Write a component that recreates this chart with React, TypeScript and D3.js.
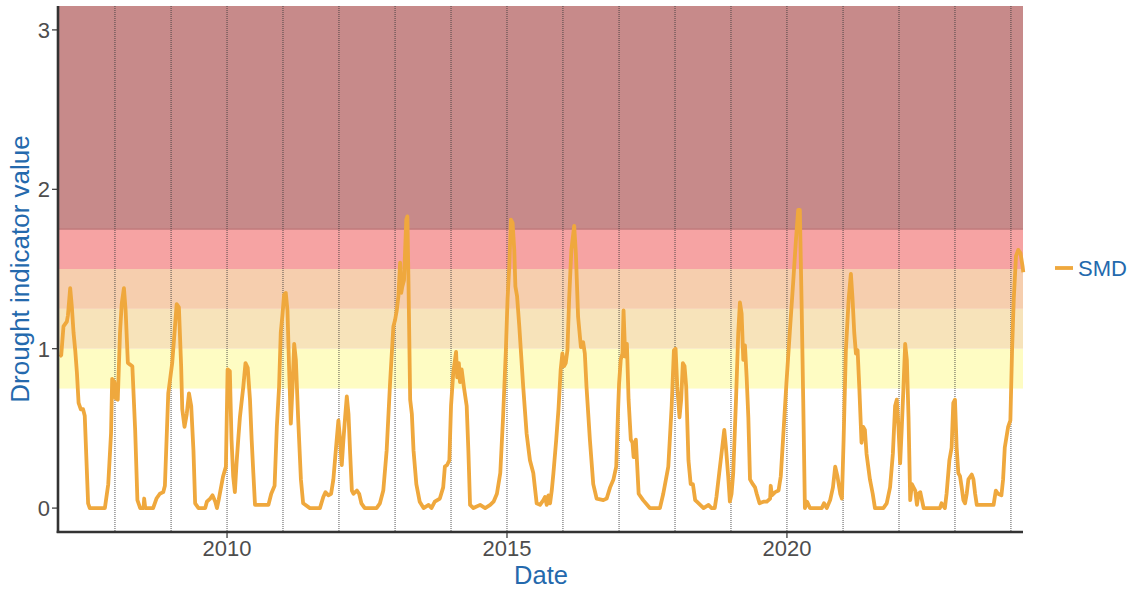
import React from "react";
import * as d3 from "d3";

// ---- data (decimal year, SMD value) ----
const smd2007to2012: [number, number][] = [
  [2007.01, 0.95], [2007.04, 0.96], [2007.08, 1.14], [2007.14, 1.17], [2007.16, 1.21], [2007.2, 1.38], [2007.23, 1.26],
  [2007.26, 1.1], [2007.29, 0.99], [2007.32, 0.85], [2007.35, 0.66], [2007.39, 0.62], [2007.43, 0.62], [2007.46, 0.58],
  [2007.52, 0.03], [2007.55, 0], [2007.82, 0], [2007.88, 0.15], [2007.93, 0.47], [2007.95, 0.81], [2007.99, 0.79],
  [2008.01, 0.69], [2008.05, 0.68], [2008.09, 1.1], [2008.12, 1.28], [2008.16, 1.38], [2008.19, 1.24], [2008.23, 0.91],
  [2008.27, 0.9], [2008.31, 0.89], [2008.36, 0.49], [2008.4, 0.05], [2008.45, 0], [2008.51, 0], [2008.52, 0.06],
  [2008.54, 0], [2008.68, 0], [2008.74, 0.06], [2008.8, 0.09], [2008.86, 0.1], [2008.89, 0.14], [2008.95, 0.72],
  [2008.98, 0.8], [2009.02, 0.91], [2009.07, 1.14], [2009.1, 1.28], [2009.14, 1.26], [2009.18, 0.89], [2009.2, 0.62],
  [2009.24, 0.51], [2009.28, 0.59], [2009.32, 0.72], [2009.36, 0.64], [2009.4, 0.36], [2009.43, 0.03], [2009.49, 0],
  [2009.61, 0], [2009.64, 0.04], [2009.7, 0.06], [2009.74, 0.08], [2009.79, 0.04], [2009.82, 0], [2009.85, 0.05],
  [2009.93, 0.2], [2009.98, 0.26], [2010.01, 0.87], [2010.05, 0.86], [2010.08, 0.43], [2010.11, 0.2], [2010.14, 0.1],
  [2010.17, 0.28], [2010.2, 0.43], [2010.23, 0.57], [2010.29, 0.76], [2010.33, 0.91], [2010.37, 0.88], [2010.41, 0.68],
  [2010.44, 0.43], [2010.47, 0.22], [2010.5, 0.02], [2010.74, 0.02], [2010.79, 0.09], [2010.85, 0.14], [2010.89, 0.51],
  [2010.93, 0.76], [2010.96, 1.1], [2010.99, 1.21], [2011.02, 1.34], [2011.05, 1.35], [2011.08, 1.24], [2011.11, 0.87],
  [2011.14, 0.53], [2011.17, 0.76], [2011.2, 1.03], [2011.23, 0.93], [2011.27, 0.57], [2011.32, 0.18], [2011.36, 0.03],
  [2011.48, 0], [2011.66, 0], [2011.72, 0.07], [2011.76, 0.1], [2011.81, 0.08], [2011.86, 0.09], [2011.9, 0.18],
  [2011.96, 0.43], [2011.99, 0.55], [2012.02, 0.43], [2012.05, 0.27], [2012.08, 0.43], [2012.11, 0.57], [2012.14, 0.7],
  [2012.17, 0.59], [2012.2, 0.34], [2012.23, 0.11], [2012.26, 0.09], [2012.32, 0.11], [2012.36, 0.09], [2012.4, 0.03],
  [2012.46, 0], [2012.67, 0],
];

const smd2012to2018: [number, number][] = [
  [2012.73, 0.03], [2012.79, 0.11], [2012.85, 0.36], [2012.91, 0.78], [2012.97, 1.14], [2013.0, 1.18], [2013.03, 1.24],
  [2013.06, 1.33], [2013.09, 1.54], [2013.11, 1.35], [2013.13, 1.39], [2013.16, 1.43], [2013.2, 1.81], [2013.22, 1.83],
  [2013.24, 1.41], [2013.27, 0.68], [2013.3, 0.59], [2013.33, 0.36], [2013.38, 0.15], [2013.44, 0.04], [2013.51, 0],
  [2013.6, 0.02], [2013.65, 0], [2013.71, 0.04], [2013.8, 0.06], [2013.86, 0.13], [2013.89, 0.26], [2013.93, 0.27],
  [2013.97, 0.3], [2014.0, 0.64], [2014.04, 0.85], [2014.09, 0.98], [2014.11, 0.82], [2014.14, 0.91], [2014.16, 0.79],
  [2014.19, 0.87], [2014.23, 0.76], [2014.28, 0.64], [2014.31, 0.36], [2014.34, 0.02], [2014.4, 0], [2014.52, 0.02],
  [2014.61, 0], [2014.7, 0.02], [2014.76, 0.04], [2014.82, 0.09], [2014.88, 0.22], [2014.93, 0.57], [2014.98, 0.99],
  [2015.01, 1.31], [2015.04, 1.51], [2015.07, 1.81], [2015.1, 1.79], [2015.13, 1.62], [2015.15, 1.39], [2015.18, 1.33],
  [2015.22, 1.14], [2015.29, 0.76], [2015.35, 0.47], [2015.41, 0.3], [2015.47, 0.22], [2015.53, 0.03], [2015.59, 0.02],
  [2015.65, 0.05], [2015.68, 0.07], [2015.71, 0.02], [2015.74, 0.08], [2015.77, 0.03], [2015.8, 0.11], [2015.83, 0.22],
  [2015.88, 0.43], [2015.92, 0.62], [2015.96, 0.87], [2015.99, 0.97], [2016.02, 0.89], [2016.05, 0.91], [2016.08, 0.99],
  [2016.11, 1.31], [2016.15, 1.62], [2016.2, 1.77], [2016.23, 1.6], [2016.27, 1.2], [2016.32, 1.01], [2016.36, 1.04],
  [2016.39, 0.97], [2016.42, 0.76], [2016.48, 0.43], [2016.54, 0.15], [2016.6, 0.06], [2016.72, 0.05], [2016.78, 0.06],
  [2016.84, 0.13], [2016.9, 0.18], [2016.95, 0.26], [2016.98, 0.59], [2017.0, 0.78], [2017.03, 0.93], [2017.06, 0.97],
  [2017.08, 1.24], [2017.11, 0.95], [2017.14, 1.03], [2017.17, 0.68], [2017.21, 0.43], [2017.24, 0.41], [2017.26, 0.32],
  [2017.3, 0.43], [2017.35, 0.09], [2017.43, 0.05], [2017.55, 0], [2017.73, 0], [2017.79, 0.09], [2017.88, 0.26],
  [2017.94, 0.64], [2017.98, 0.99], [2018.01, 1.0], [2018.04, 0.76], [2018.08, 0.57], [2018.11, 0.68], [2018.14, 0.91],
  [2018.17, 0.89], [2018.2, 0.76], [2018.24, 0.3], [2018.28, 0.15], [2018.32, 0.15],
];

const smd2018to2024: [number, number][] = [
  [2018.36, 0.05], [2018.39, 0.04], [2018.51, 0], [2018.6, 0.02], [2018.65, 0], [2018.71, 0], [2018.74, 0.07],
  [2018.79, 0.22], [2018.83, 0.34], [2018.88, 0.49], [2018.91, 0.38], [2018.95, 0.2], [2018.98, 0.04], [2019.01, 0.09],
  [2019.04, 0.22], [2019.09, 0.68], [2019.13, 1.1], [2019.16, 1.29], [2019.19, 1.22], [2019.22, 0.93], [2019.25, 1.02],
  [2019.28, 0.82], [2019.31, 0.57], [2019.34, 0.18], [2019.39, 0.15], [2019.43, 0.13], [2019.46, 0.09], [2019.51, 0.03],
  [2019.58, 0.04], [2019.64, 0.04], [2019.7, 0.06], [2019.71, 0.14], [2019.73, 0.08], [2019.79, 0.1], [2019.85, 0.11],
  [2019.89, 0.2], [2019.93, 0.43], [2019.99, 0.78], [2020.05, 1.1], [2020.11, 1.41], [2020.16, 1.68], [2020.2, 1.87],
  [2020.23, 1.87], [2020.26, 1.31], [2020.29, 0.68], [2020.32, 0], [2020.36, 0.04], [2020.41, 0], [2020.62, 0],
  [2020.66, 0.03], [2020.71, 0], [2020.77, 0.05], [2020.82, 0.13], [2020.86, 0.26], [2020.9, 0.2], [2020.95, 0.09],
  [2020.98, 0.06], [2021.01, 0.43], [2021.05, 0.99], [2021.1, 1.31], [2021.14, 1.47], [2021.17, 1.31], [2021.2, 1.1],
  [2021.23, 0.97], [2021.26, 0.99], [2021.29, 0.76], [2021.33, 0.41], [2021.36, 0.51], [2021.39, 0.49], [2021.42, 0.34],
  [2021.48, 0.18], [2021.53, 0.09], [2021.57, 0], [2021.72, 0], [2021.78, 0.03], [2021.84, 0.13], [2021.89, 0.34],
  [2021.93, 0.64], [2021.96, 0.68], [2021.99, 0.51], [2022.02, 0.28], [2022.05, 0.51], [2022.08, 0.76], [2022.11, 1.03],
  [2022.14, 0.93], [2022.17, 0.57], [2022.2, 0.05], [2022.23, 0.15], [2022.26, 0.13], [2022.29, 0.11], [2022.32, 0.02],
  [2022.35, 0.09], [2022.38, 0.1], [2022.41, 0.05], [2022.44, 0], [2022.73, 0], [2022.76, 0.03], [2022.82, 0],
  [2022.85, 0.09], [2022.9, 0.3], [2022.94, 0.38], [2022.97, 0.66], [2023.0, 0.68], [2023.03, 0.38], [2023.06, 0.22],
  [2023.09, 0.2], [2023.12, 0.13], [2023.15, 0.05], [2023.18, 0.03], [2023.21, 0.09], [2023.24, 0.18], [2023.3, 0.21],
  [2023.33, 0.18], [2023.36, 0.09], [2023.39, 0.02], [2023.69, 0.02], [2023.73, 0.11], [2023.77, 0.09], [2023.83, 0.08],
  [2023.86, 0.18], [2023.89, 0.38], [2023.95, 0.51], [2023.99, 0.55], [2024.02, 0.99], [2024.05, 1.31], [2024.09, 1.58],
  [2024.13, 1.62], [2024.17, 1.6], [2024.21, 1.51], [2024.22, 1.48],
];

const xTickYears = [2010, 2015, 2020];
const yTickValues = [0, 1, 2, 3];
const yearLineYears = [2008, 2009, 2010, 2011, 2012, 2013, 2014, 2015, 2016, 2017, 2018, 2019, 2020, 2021, 2022, 2023, 2024];
const bandLower = [0.75, 1.0, 1.25, 1.5, 1.75];
const bandUpper = [1.0, 1.25, 1.5, 1.75, 3.15];
const bandColors = ["#fefcc3", "#f7e3ba", "#f6ceae", "#f6a3a3", "#c78a8a"];
const seriesName = "SMD";

function decYearToDate(t: number): Date {
  const y = Math.floor(t);
  const s = new Date(y, 0, 1).getTime();
  const e = new Date(y + 1, 0, 1).getTime();
  return new Date(s + (t - y) * (e - s));
}

const W = 1135;
const H = 592;
const left = 59;
const right = 1023;
const top = 6;
const bottom = 532;

export default function App() {
  const data = [...smd2007to2012, ...smd2012to2018, ...smd2018to2024].map(([t, v]) => ({ date: decYearToDate(t), v }));
  const x = d3.scaleTime().domain([decYearToDate(2007.0), decYearToDate(2024.215)]).range([left, right]);
  const y = d3.scaleLinear().domain([-0.15, 3.15]).range([bottom, top]);
  const line = d3
    .line<{ date: Date; v: number }>()
    .x((d) => x(d.date))
    .y((d) => y(d.v));
  const font = "'Liberation Sans', Arial, Helvetica, sans-serif";
  const titleColor = "#2469ad";
  const tickColor = "#4d4d4d";
  const orange = "#efa83d";

  return (
    <svg width={W} height={H} style={{ position: "absolute", left: 0, top: 0, background: "#fff" }} fontFamily={font}>
      <rect x={0} y={0} width={W} height={H} fill="#fff" />
      {bandLower.map((lo, i) => (
        <rect
          key={"b" + i}
          x={left}
          width={right - left}
          y={y(bandUpper[i])}
          height={y(lo) - y(bandUpper[i])}
          fill={bandColors[i]}
        />
      ))}
      <line x1={left} x2={right} y1={y(1.75)} y2={y(1.75)} stroke="#b86f70" strokeWidth={1} />
      {yearLineYears.map((yr) => (
        <line
          key={"v" + yr}
          x1={x(new Date(yr, 0, 1))}
          x2={x(new Date(yr, 0, 1))}
          y1={top}
          y2={bottom}
          stroke="#3a3a3a"
          strokeWidth={1}
          strokeDasharray="1,1"
          opacity={0.85}
        />
      ))}
      <path d={line(data) || ""} fill="none" stroke={orange} strokeWidth={3.8} strokeLinejoin="round" strokeLinecap="butt" />
      {/* axes */}
      <line x1={left - 1} x2={left - 1} y1={top} y2={bottom + 1} stroke="#333" strokeWidth={2.6} />
      <line x1={left - 2.3} x2={right} y1={bottom} y2={bottom} stroke="#333" strokeWidth={2.6} />
      {yTickValues.map((v) => (
        <g key={"yt" + v}>
          <line x1={left - 7} x2={left - 1} y1={y(v)} y2={y(v)} stroke="#333" strokeWidth={1.2} />
          <text x={left - 9} y={y(v)} dy="0.36em" textAnchor="end" fontSize={22} fill={tickColor}>
            {v}
          </text>
        </g>
      ))}
      {xTickYears.map((yr) => (
        <g key={"xt" + yr}>
          <line x1={x(new Date(yr, 0, 1))} x2={x(new Date(yr, 0, 1))} y1={bottom} y2={bottom + 6} stroke="#333" strokeWidth={1.2} />
          <text x={x(new Date(yr, 0, 1))} y={556} textAnchor="middle" fontSize={22} fill={tickColor}>
            {yr}
          </text>
        </g>
      ))}
      <text x={(left + right) / 2} y={584} textAnchor="middle" fontSize={25.5} fill={titleColor}>
        Date
      </text>
      <text
        transform={`translate(29, ${(top + bottom) / 2}) rotate(-90)`}
        textAnchor="middle"
        fontSize={26}
        fill={titleColor}
      >
        Drought indicator value
      </text>
      <line x1={1055} x2={1073} y1={268} y2={268} stroke={orange} strokeWidth={3.8} />
      <text x={1078} y={276} fontSize={22} fill={titleColor}>
        {seriesName}
      </text>
    </svg>
  );
}
